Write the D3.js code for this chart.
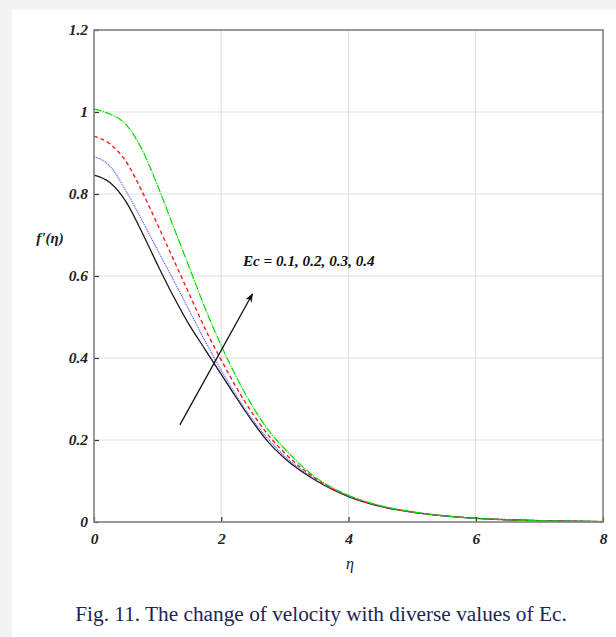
<!DOCTYPE html>
<html>
<head>
<meta charset="utf-8">
<script src="https://cdn.jsdelivr.net/npm/d3@7"></script>
<style>
  body { margin: 0; background: #f3f3f3; }
  #chart { display: block; }
</style>
</head>
<body>
<div id="chart"></div>
<script>
// DATA =========================================
const eta = [0, 0.25, 0.5, 0.75, 1, 1.25, 1.5, 1.75, 2, 2.25, 2.5, 2.75, 3, 3.5, 4, 4.5, 5, 5.5, 6, 6.5, 7, 7.5, 8];

const ec01 = [0.846, 0.828, 0.782, 0.708, 0.627, 0.55, 0.48, 0.42, 0.36, 0.30, 0.243, 0.193, 0.155, 0.1, 0.062, 0.038, 0.024, 0.015, 0.009, 0.0055, 0.0033, 0.002, 0.001];
const ec02 = [0.891, 0.868, 0.808, 0.737, 0.663, 0.59, 0.515, 0.44, 0.37, 0.305, 0.248, 0.2, 0.16, 0.102, 0.063, 0.039, 0.024, 0.015, 0.009, 0.0055, 0.0033, 0.002, 0.001];
const ec03 = [0.941, 0.922, 0.88, 0.808, 0.725, 0.64, 0.555, 0.47, 0.395, 0.325, 0.263, 0.21, 0.168, 0.104, 0.064, 0.039, 0.024, 0.015, 0.009, 0.0055, 0.0033, 0.002, 0.001];
const ec04 = [1.007, 0.995, 0.97, 0.91, 0.82, 0.72, 0.62, 0.52, 0.43, 0.35, 0.28, 0.222, 0.178, 0.107, 0.065, 0.04, 0.025, 0.015, 0.009, 0.0055, 0.0033, 0.002, 0.001];

const xTicks = [0, 2, 4, 6, 8];
const yTicks = [0, 0.2, 0.4, 0.6, 0.8, 1, 1.2];
const yTickLabels = ["0", "0.2", "0.4", "0.6", "0.8", "1", "1.2"];

const series = [
  { name: "Ec = 0.1", values: ec01, color: "#1a1a1a", dash: null, width: 1.3 },
  { name: "Ec = 0.2", values: ec02, color: "#5555ff", dash: "1.2,0.8", width: 1.1 },
  { name: "Ec = 0.3", values: ec03, color: "#ff1a1a", dash: "4,3", width: 1.4 },
  { name: "Ec = 0.4", values: ec04, color: "#00dd00", dash: "8,1.2,1.2,1.2", width: 1.2 }
];

const legendText = "Ec = 0.1, 0.2, 0.3, 0.4";
const arrowFrom = [1.35, 0.237];
const arrowTo = [2.49, 0.556];

// SETUP ========================================
const width = 616, height = 637;
const plot = { left: 94, right: 603, top: 30, bottom: 522 };
const serif = "'Liberation Serif', 'Times New Roman', serif";

const svg = d3.select("#chart")
  .append("svg")
  .attr("width", width)
  .attr("height", height);

// page frame: grey strip top/left, white figure
svg.append("rect")
  .attr("x", 0).attr("y", 0)
  .attr("width", width).attr("height", height)
  .attr("fill", "#f3f3f3");
svg.append("rect")
  .attr("x", 12).attr("y", 10)
  .attr("width", width - 12).attr("height", height - 10)
  .attr("fill", "#fff");

// SCALES =======================================
const x = d3.scaleLinear().domain([0, 8]).range([plot.left, plot.right]);
const y = d3.scaleLinear().domain([0, 1.2]).range([plot.bottom, plot.top]);

// GRID =========================================
svg.append("g")
  .selectAll("line.gx")
  .data(xTicks.slice(1, -1))
  .join("line")
  .attr("class", "gx")
  .attr("x1", d => x(d)).attr("x2", d => x(d))
  .attr("y1", plot.top).attr("y2", plot.bottom)
  .attr("stroke", "#dedede")
  .attr("stroke-width", 1);

svg.append("g")
  .selectAll("line.gy")
  .data(yTicks.slice(1, -1))
  .join("line")
  .attr("class", "gy")
  .attr("x1", plot.left).attr("x2", plot.right)
  .attr("y1", d => y(d)).attr("y2", d => y(d))
  .attr("stroke", "#dedede")
  .attr("stroke-width", 1);

// CURVES =======================================
const line = d3.line()
  .x(d => x(d[0]))
  .y(d => y(d[1]))
  .curve(d3.curveMonotoneX);

svg.append("g")
  .selectAll("path")
  .data(series)
  .join("path")
  .attr("d", s => line(eta.map((e, i) => [e, s.values[i]])))
  .attr("fill", "none")
  .attr("stroke", s => s.color)
  .attr("stroke-width", s => s.width)
  .attr("stroke-dasharray", s => s.dash);

// AXES =========================================
const xAxis = d3.axisBottom(x)
  .tickValues(xTicks)
  .tickSize(-5)
  .tickPadding(11)
  .tickFormat(d3.format("d"));

const yAxis = d3.axisLeft(y)
  .tickValues(yTicks)
  .tickSize(-5)
  .tickPadding(6)
  .tickFormat((d, i) => yTickLabels[i]);

const gx = svg.append("g")
  .attr("transform", `translate(0, ${plot.bottom})`)
  .call(xAxis);

const gy = svg.append("g")
  .attr("transform", `translate(${plot.left}, 0)`)
  .call(yAxis);

[gx, gy].forEach(g => {
  g.select(".domain").remove();
  g.selectAll(".tick line").attr("stroke", "#333").attr("stroke-width", 1.2);
  g.selectAll(".tick text")
    .attr("fill", "#222")
    .style("font-family", serif)
    .style("font-size", "15.5px")
    .style("font-weight", "bold")
    .style("font-style", "italic");
});

// box
svg.append("rect")
  .attr("x", plot.left).attr("y", plot.top)
  .attr("width", plot.right - plot.left)
  .attr("height", plot.bottom - plot.top)
  .attr("fill", "none")
  .attr("stroke", "#808080")
  .attr("stroke-width", 1.6);

// LABELS =======================================
svg.append("text")
  .attr("x", 350).attr("y", 569)
  .attr("text-anchor", "middle")
  .style("font-family", serif)
  .style("font-size", "16px")
  .style("font-style", "italic")
  .attr("fill", "#222")
  .text("η");

svg.append("text")
  .attr("x", 50).attr("y", 243)
  .attr("text-anchor", "middle")
  .style("font-family", serif)
  .style("font-size", "15px")
  .style("font-weight", "bold")
  .style("font-style", "italic")
  .attr("fill", "#222")
  .text("f'(η)");

svg.append("text")
  .attr("x", x(2.34)).attr("y", y(0.624))
  .style("font-family", serif)
  .style("font-size", "15.2px")
  .style("font-weight", "bold")
  .style("font-style", "italic")
  .attr("fill", "#111")
  .text(legendText);

// arrow
svg.append("defs")
  .append("marker")
  .attr("id", "head")
  .attr("viewBox", "0 0 10 10")
  .attr("refX", 9).attr("refY", 5)
  .attr("markerWidth", 9).attr("markerHeight", 9)
  .attr("markerUnits", "userSpaceOnUse")
  .attr("orient", "auto")
  .append("path")
  .attr("d", "M0,1 L10,5 L0,9 L3,5 Z")
  .attr("fill", "#111");

svg.append("line")
  .attr("x1", x(arrowFrom[0])).attr("y1", y(arrowFrom[1]))
  .attr("x2", x(arrowTo[0])).attr("y2", y(arrowTo[1]))
  .attr("stroke", "#111")
  .attr("stroke-width", 1.3)
  .attr("marker-end", "url(#head)");

// caption
svg.append("text")
  .attr("x", 321).attr("y", 621)
  .attr("text-anchor", "middle")
  .style("font-family", serif)
  .style("font-size", "21.3px")
  .attr("fill", "#1f2456")
  .text("Fig. 11. The change of velocity with diverse values of Ec.");
</script>
</body>
</html>
